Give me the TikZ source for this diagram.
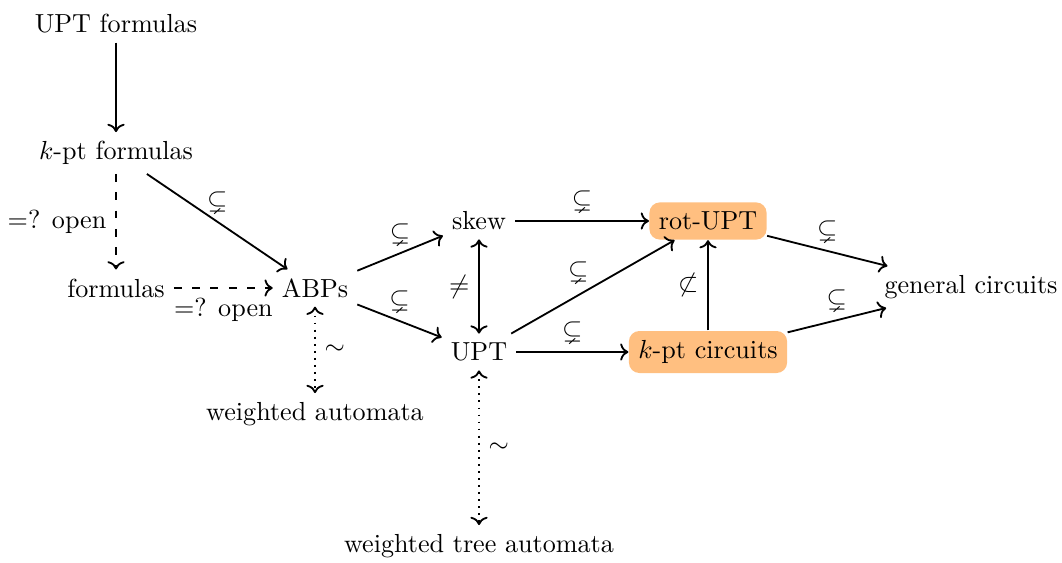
\documentclass[tikz,border=0pt]{standalone}
\usepackage{amssymb}
\usetikzlibrary{arrows.meta}
\begin{document}
\begin{tikzpicture}[x=0.383pt,y=-0.383pt,
  ed/.style={->,line width=0.7pt},
  eddash/.style={->,line width=0.7pt,dash pattern=on 3pt off 4pt},
  eddot/.style={<->,line width=0.7pt,dotted},
  hl/.style={fill=orange!50,rounded corners=4pt,inner sep=3.6pt}]
\useasboundingbox (0,0) rectangle (1062,563);
\node (uptf) at (116,24) {UPT formulas};
\node (kptf) at (116,153) {$k$-pt formulas};
\node (form) at (116,288) {formulas};
\node (abp) at (315,288) {ABPs};
\node (skew) at (479,221) {skew};
\node (upt) at (479,352) {UPT};
\node[hl] (rot) at (708,221) {rot-UPT};
\node[hl] (kptc) at (708,352) {$k$-pt circuits};
\node (gen) at (971,287) {general circuits};
\node (wa) at (315,414) {weighted automata};
\node (wta) at (479,546) {weighted tree automata};

\draw[ed] (uptf) -- (kptf);
\draw[eddash] (kptf) -- node[left] {$=$? open} (form);
\draw[ed] (kptf) -- node[above] {$\subsetneq$} (abp);
\draw[eddash] (form) -- node[below] {$=$? open} (abp);
\draw[ed] (abp) -- node[above] {$\subsetneq$} (skew);
\draw[ed] (abp) -- node[above] {$\subsetneq$} (upt);
\draw[<->,line width=0.7pt] (skew) -- node[left] {$\neq$} (upt);
\draw[ed] (skew) -- node[above] {$\subsetneq$} (rot);
\draw[ed] (upt) -- node[above left=-2pt] {$\subsetneq$} (rot);
\draw[ed] (upt) -- node[above] {$\subsetneq$} (kptc);
\draw[ed] (kptc) -- node[left] {$\not\subset$} (rot);
\draw[ed] (rot) -- node[above] {$\subsetneq$} (gen);
\draw[ed] (kptc) -- node[above] {$\subsetneq$} (gen);
\draw[eddot] (abp) -- node[right] {$\sim$} (wa);
\draw[eddot] (upt) -- node[right] {$\sim$} (wta);
\end{tikzpicture}
\end{document}
